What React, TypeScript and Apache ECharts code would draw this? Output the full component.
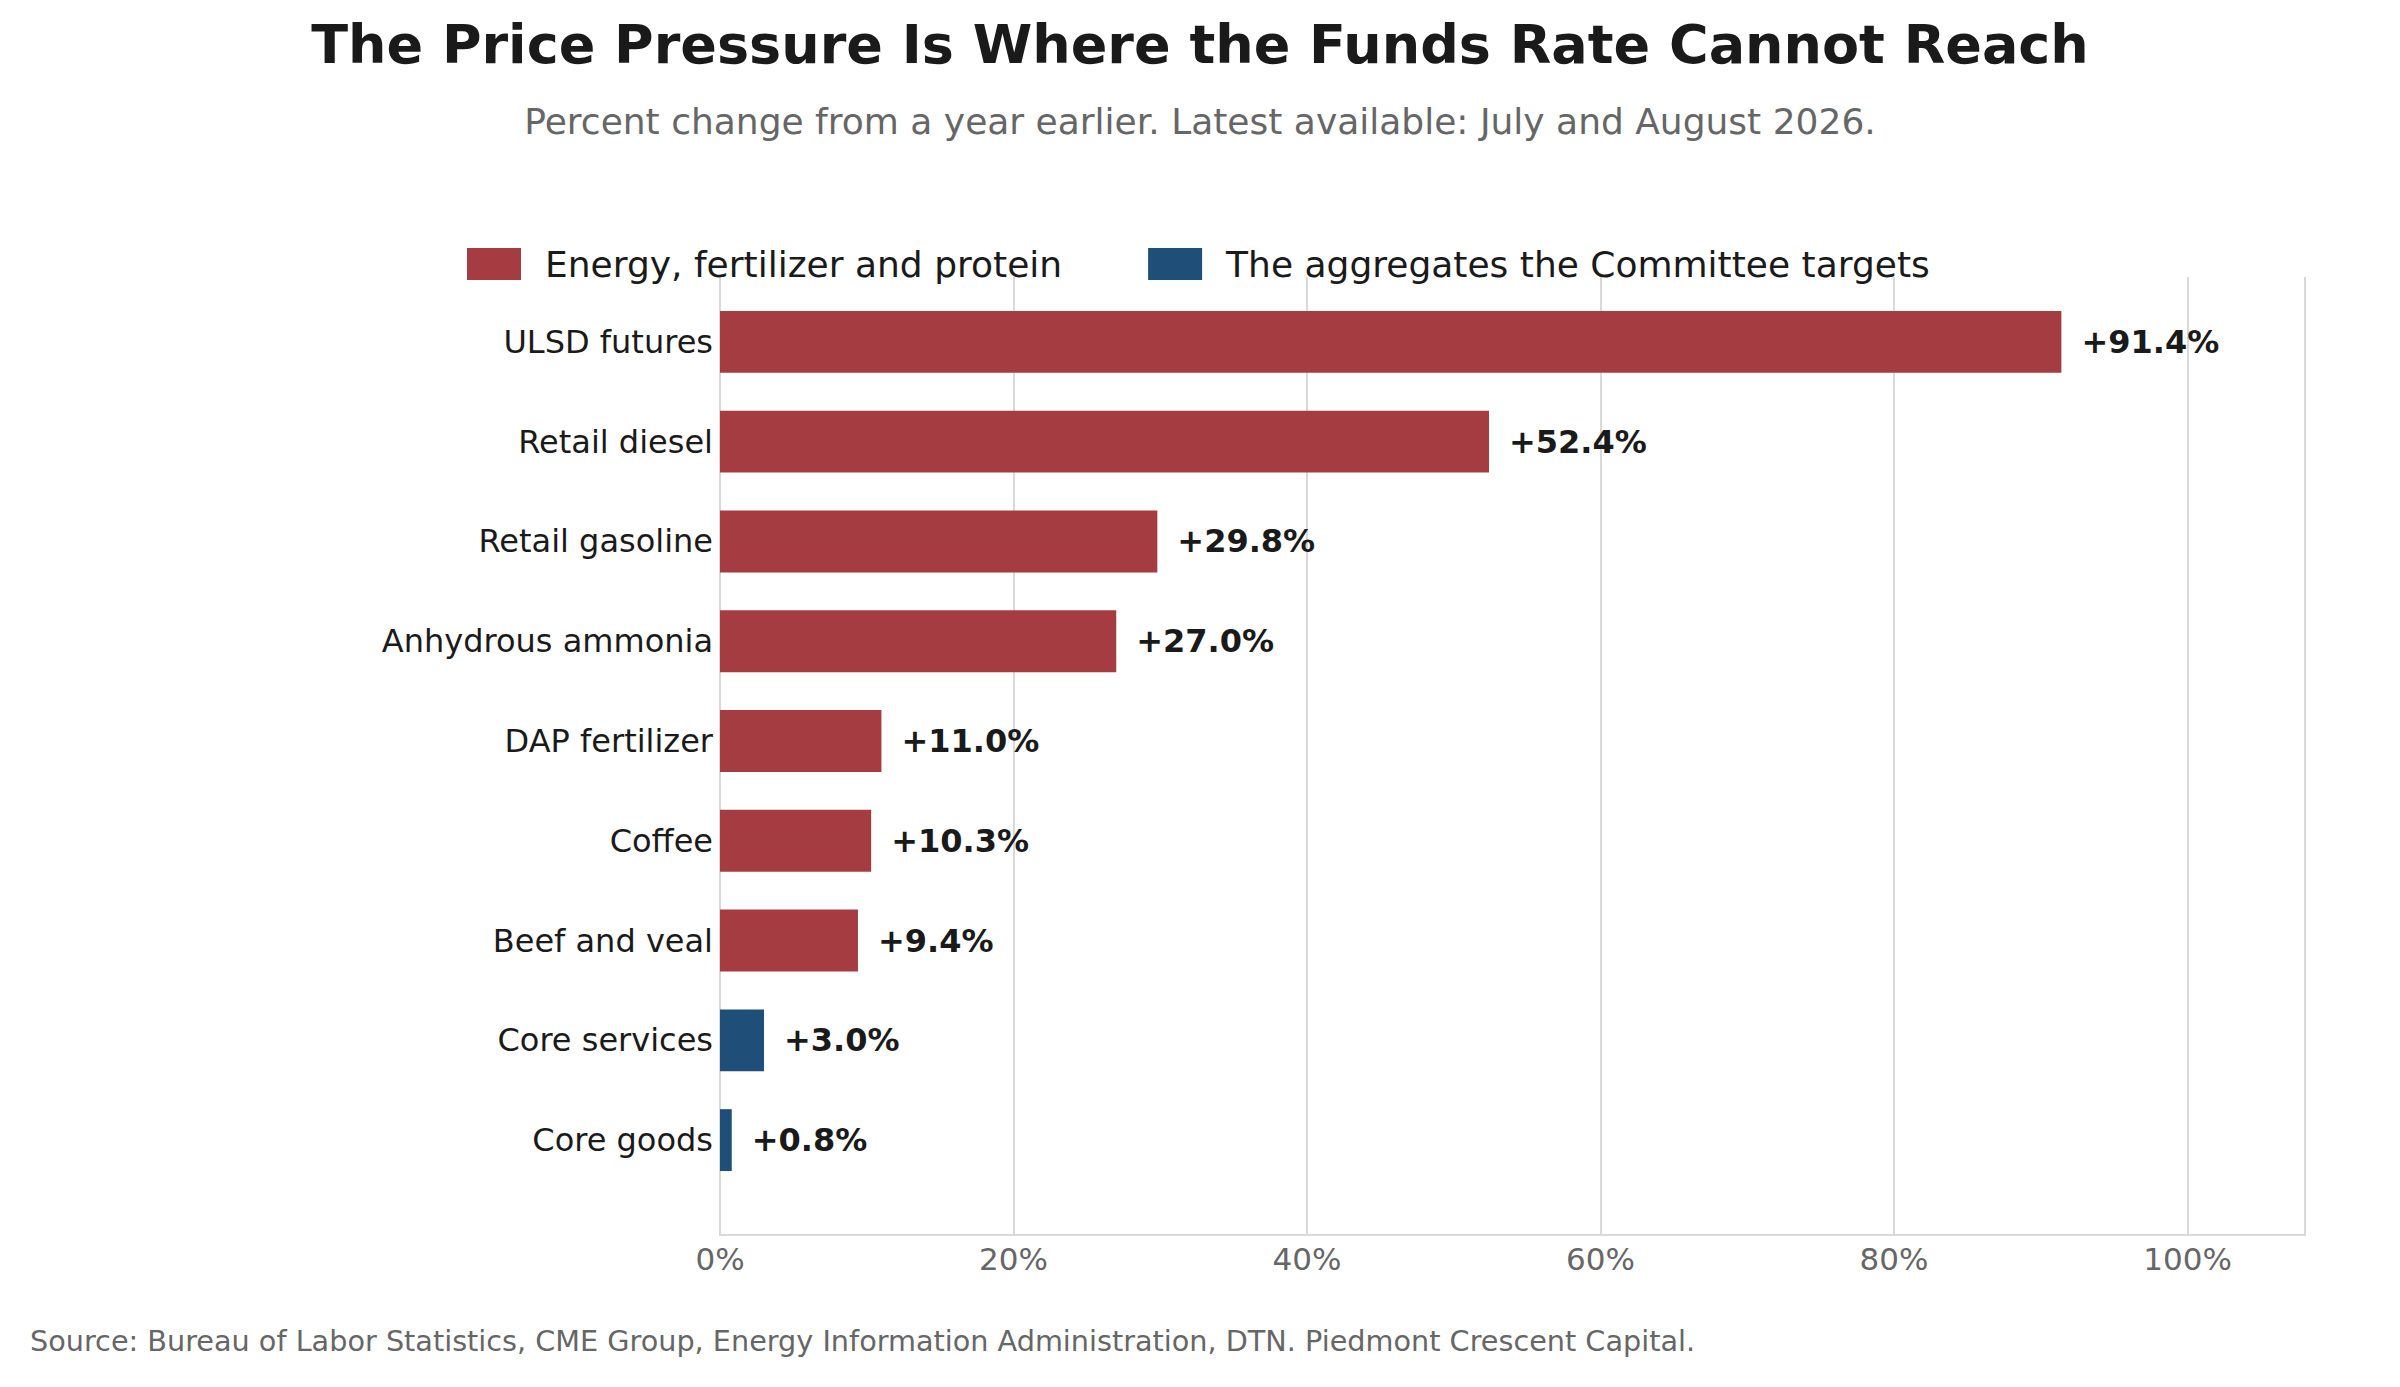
import React, { useEffect, useRef } from "react";
import * as echarts from "echarts";

const titleText = "The Price Pressure Is Where the Funds Rate Cannot Reach";
const subtitleText = "Percent change from a year earlier. Latest available: July and August 2026.";
const sourceText = "Source: Bureau of Labor Statistics, CME Group, Energy Information Administration, DTN. Piedmont Crescent Capital.";

const categories = [
  "ULSD futures",
  "Retail diesel",
  "Retail gasoline",
  "Anhydrous ammonia",
  "DAP fertilizer",
  "Coffee",
  "Beef and veal",
  "Core services",
  "Core goods",
];
const values = [91.4, 52.4, 29.8, 27.0, 11.0, 10.3, 9.4, 3.0, 0.8];
const groups = ["energy", "energy", "energy", "energy", "energy", "energy", "energy", "aggregate", "aggregate"];

const seriesNames = ["Energy, fertilizer and protein", "The aggregates the Committee targets"];
const seriesKeys = ["energy", "aggregate"];
const seriesColors = ["#A43C41", "#1F4E79"];

const xTicks = [0, 20, 40, 60, 80, 100];
const xMax = 108;

const FONT = "DejaVu Sans";

export default function App() {
  const ref = useRef<HTMLDivElement>(null);
  useEffect(() => {
    document.body.style.margin = "0";
    if (!ref.current) return;
    const chart = echarts.init(ref.current, null, { renderer: "svg" });
    const L = 720;
    const R = 2400 - 2305;
    const option: any = {
      animation: false,
      backgroundColor: "#ffffff",
      textStyle: { fontFamily: FONT },
      legend: {
        left: 467,
        top: 246,
        padding: 0,
        itemWidth: 54,
        itemHeight: 32,
        itemGap: 86,
        icon: "rect",
        data: seriesNames,
        textStyle: { fontFamily: FONT, fontSize: 36, color: "#1a1a1a", padding: [0, 0, 0, 19] },
      },
      grid: [
        { left: L, right: R, top: 292, bottom: 1387 - 1190, containLabel: false },
        { left: L, right: R, top: 277, bottom: 1387 - 1235, containLabel: false },
      ],
      xAxis: [
        { type: "value", gridIndex: 0, min: 0, max: xMax, interval: 20, show: false },
        {
          type: "value",
          gridIndex: 1,
          min: 0,
          max: xMax,
          interval: 20,
          axisLine: { show: true, lineStyle: { color: "#d9d9d9", width: 2 } },
          axisTick: { show: false },
          splitLine: { show: true, lineStyle: { color: "#d9d9d9", width: 2 } },
          axisLabel: {
            fontFamily: FONT,
            fontSize: 31,
            color: "#666666",
            margin: 8,
            formatter: (v: number) => (xTicks.includes(v) ? `${v}%` : ""),
          },
        },
      ],
      yAxis: [
        {
          type: "category",
          gridIndex: 0,
          data: categories,
          inverse: true,
          axisLine: { show: false },
          axisTick: { show: false },
          splitLine: { show: false },
          axisLabel: { fontFamily: FONT, fontSize: 32, color: "#1a1a1a", margin: 7 },
        },
        {
          type: "value",
          gridIndex: 1,
          min: 0,
          max: 1,
          axisLine: { show: true, lineStyle: { color: "#d9d9d9", width: 2 } },
          axisTick: { show: false },
          axisLabel: { show: false },
          splitLine: { show: false },
        },
      ],
      series: seriesKeys.map((key, si) => ({
        name: seriesNames[si],
        type: "bar",
        xAxisIndex: 0,
        yAxisIndex: 0,
        stack: "one",
        barWidth: "62%",
        itemStyle: { color: seriesColors[si] },
        label: {
          show: true,
          position: "right",
          distance: 20,
          fontFamily: FONT,
          fontSize: 32,
          fontWeight: "bold",
          color: "#1a1a1a",
          formatter: (p: any) => `+${Number(p.value).toFixed(1)}%`,
        },
        data: values.map((v, i) => (groups[i] === key ? v : "-")),
      })),
      graphic: [
        {
          type: "text",
          left: "center",
          top: 17,
          style: { text: titleText, fontFamily: FONT, fontSize: 54, fontWeight: "bold", fill: "#1a1a1a" },
        },
        {
          type: "text",
          left: "center",
          top: 103,
          style: { text: subtitleText, fontFamily: FONT, fontSize: 36, fill: "#666666" },
        },
        {
          type: "text",
          left: 30,
          top: 1326,
          style: { text: sourceText, fontFamily: FONT, fontSize: 28.7, fill: "#666666" },
        },
      ],
    };
    chart.setOption(option);
    return () => chart.dispose();
  }, []);
  return <div ref={ref} style={{ width: 2400, height: 1387 }} />;
}
